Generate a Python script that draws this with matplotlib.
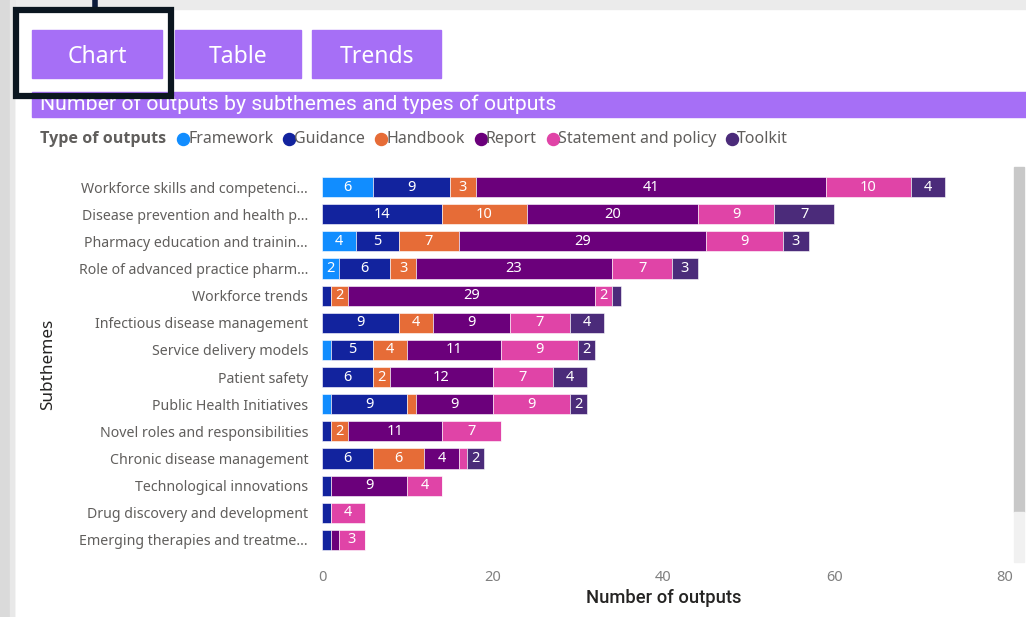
import matplotlib
matplotlib.use("Agg")
import matplotlib.pyplot as plt
from matplotlib.patches import Rectangle
import numpy as np

plt.rcParams['font.family'] = ['Noto Sans', 'DejaVu Sans']

# Data
subthemes = [
    "Workforce skills and competenci...",
    "Disease prevention and health p...",
    "Pharmacy education and trainin...",
    "Role of advanced practice pharm...",
    "Workforce trends",
    "Infectious disease management",
    "Service delivery models",
    "Patient safety",
    "Public Health Initiatives",
    "Novel roles and responsibilities",
    "Chronic disease management",
    "Technological innovations",
    "Drug discovery and development",
    "Emerging therapies and treatme...",
]
types = ["Framework", "Guidance", "Handbook", "Report", "Statement and policy", "Toolkit"]
framework = [6, 0, 4, 2, 0, 0, 1, 0, 1, 0, 0, 0, 0, 0]
guidance  = [9, 14, 5, 6, 1, 9, 5, 6, 9, 1, 6, 1, 1, 1]
handbook  = [3, 10, 7, 3, 2, 4, 4, 2, 1, 2, 6, 0, 0, 0]
report    = [41, 20, 29, 23, 29, 9, 11, 12, 9, 11, 4, 9, 0, 1]
statement = [10, 9, 9, 7, 2, 7, 9, 7, 9, 7, 1, 4, 4, 3]
toolkit   = [4, 7, 3, 3, 1, 4, 2, 4, 2, 0, 2, 0, 0, 0]
series = [framework, guidance, handbook, report, statement, toolkit]
colors = ["#118DFF", "#12239E", "#E66C37", "#6B007B", "#E044A7", "#4B2B7A"]
buttons = ["Chart", "Table", "Trends"]

W, H = 1026, 617
fig = plt.figure(figsize=(W / 100, H / 100), dpi=100)

# background / decoration layer in pixel coordinates
bg = fig.add_axes([0, 0, 1, 1])
bg.set_xlim(0, W)
bg.set_ylim(H, 0)
bg.axis("off")
purple = "#A66FF6"
bg.add_patch(Rectangle((0, 0), W, 9, color="#EBEBEB"))
bg.add_patch(Rectangle((0, 0), 14, H, color="#DADADA"))
bg.add_patch(Rectangle((10, 0), 4, H, color="#E8E8E8"))
bg.plot([95, 95], [0, 9], color="#0B1A3A", lw=4)

# buttons
btn_x = [32, 175, 312]
btn_w = [130, 126, 129]
for bx, bw, name in zip(btn_x, btn_w, buttons):
    bg.add_patch(Rectangle((bx, 30), bw, 48, color=purple))
    bg.text(bx + bw / 2, 57, name, color="white", fontsize=16.5,
            ha="center", va="center")

# title bar
bg.add_patch(Rectangle((32, 92), W - 32, 25, color=purple))
bg.text(40, 104, "Number of outputs by subthemes and types of outputs", color="white",
        fontsize=15.3, family="Roboto", ha="left", va="center", zorder=3)
bg.add_patch(Rectangle((16, 10), 155, 86, fill=False, ec="#0B1620", lw=4.5, zorder=6))

# legend
fig.canvas.draw()
r = fig.canvas.get_renderer()
t = bg.text(40, 139, "Type of outputs", color="#605E5C", fontsize=11.6,
            fontweight="bold", family=["Open Sans", "DejaVu Sans"],
            ha="left", va="center")
x = t.get_window_extent(r).x1 + 12
for name, c in zip(types, colors):
    bg.scatter([x + 5], [139], s=75, color=c, zorder=3)
    tt = bg.text(x + 10, 139, name, color="#605E5C", fontsize=11.5, ha="left", va="center")
    x = tt.get_window_extent(r).x1 + 11

# scrollbar
bg.add_patch(Rectangle((1014, 167), 10, 345, color="#C8C8C8"))
bg.add_patch(Rectangle((1014, 512), 10, 50, color="#F1F1F1"))

# chart
ax = fig.add_axes([322 / W, 1 - 553.5 / H, (1005 - 322) / W, 380 / H])
y = np.arange(len(subthemes))
left = np.zeros(len(subthemes))
for vals, c in zip(series, colors):
    vals = np.array(vals)
    bars = ax.barh(y, vals, left=left, height=0.74, color=c, edgecolor="#FFFFFF",
                   linewidth=0.4)
    ax.bar_label(bars, labels=[str(v) if v >= 2 else "" for v in vals],
                 label_type="center", color="white", fontsize=10.5)
    left += vals

ax.set_xlim(0, 80)
ax.set_ylim(len(subthemes) - 0.5, -0.5)
ax.set_yticks(y)
ax.set_yticklabels(subthemes, color="#605E5C", fontsize=10.2)
ax.set_xticks([0, 20, 40, 60, 80])
ax.tick_params(axis="x", colors="#808080", labelsize=10.5, length=0, pad=12)
ax.tick_params(axis="y", length=0, pad=10)
for s in ax.spines.values():
    s.set_visible(False)
ax.set_facecolor("none")
ax.set_xlabel("Number of outputs", fontsize=13.2, family="Roboto", fontweight="medium",
              color="#252423", labelpad=3)
fig.text(48 / W, 1 - 364 / H, "Subthemes", rotation=90, ha="center", va="center",
         fontsize=12.3, color="#252423", fontweight="medium")

fig.savefig("out.png", dpi=100)
